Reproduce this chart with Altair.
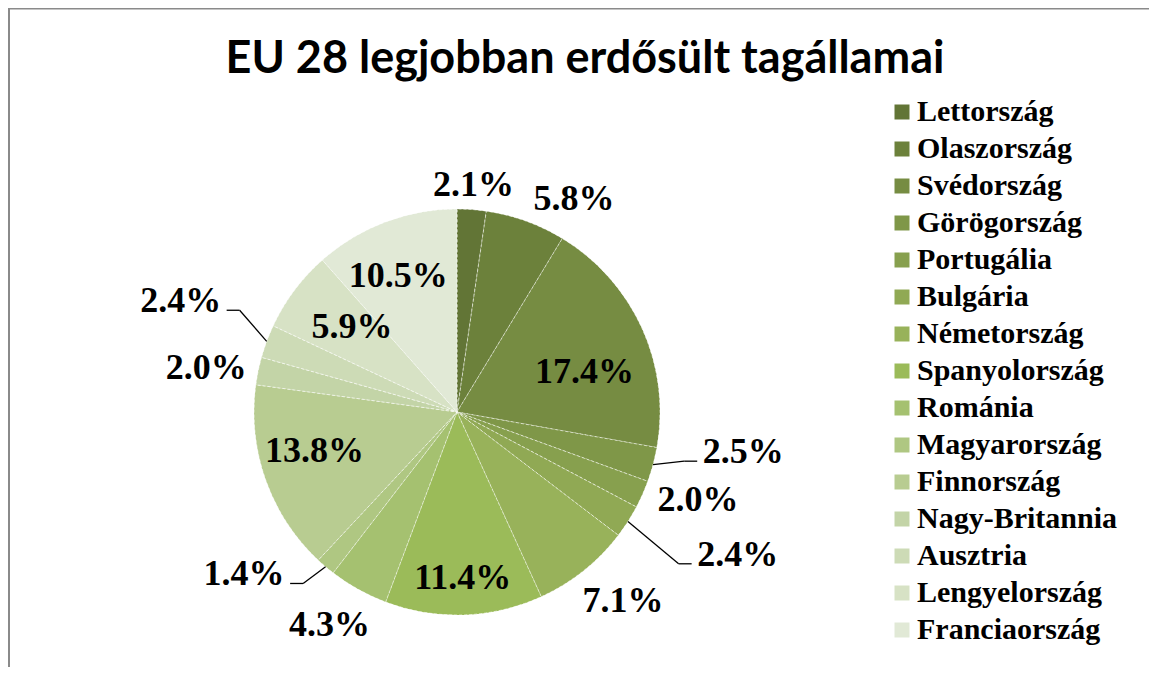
import altair as alt
import pandas as pd

# ---- data ----
countries = ["Lettország", "Olaszország", "Svédország", "Görögország", "Portugália",
             "Bulgária", "Németország", "Spanyolország", "Románia", "Magyarország",
             "Finnország", "Nagy-Britannia", "Ausztria", "Lengyelország", "Franciaország"]
shares = [2.1, 5.8, 17.4, 2.5, 2.0, 2.4, 7.1, 11.4, 4.3, 1.4, 13.8, 2.0, 2.4, 5.9, 10.5]
colors = ["#627536", "#6C813B", "#768C42", "#7F9748", "#87A04E", "#90A954", "#98B25A",
          "#9BBB59", "#A5C170", "#AFC782", "#B8CC91", "#C3D4A7", "#CDDBB6", "#D7E2C5", "#E1E9D6"]
title_text = "EU 28 legjobban erdősült tagállamai"

# ---- layout / style ----
CX, CY, R = 449, 404, 203          # pie centre and radius in view pixels
# label placement: radius from centre and a small nudge (dx, dy)
label_layout = {
    "Lettország": (228, 0, 0), "Olaszország": (245, 34, 18), "Svédország": (140, 0, 18),
    "Görögország": (286, 10, -34), "Portugália": (256, 7, -16), "Bulgária": (300, 28, -19),
    "Németország": (252, 9, -8), "Spanyolország": (166, 0, 0), "Románia": (248, -7, -4),
    "Magyarország": (267, -40, -41), "Finnország": (147, -4, -10), "Nagy-Britannia": (256, 0, 8),
    "Ausztria": (298, 3, -7), "Lengyelország": (136, 4, -4), "Franciaország": (149, -6, 3),
}
leader_countries = ["Görögország", "Bulgária", "Magyarország", "Ausztria"]
HW = 46  # half label width + gap for leader line end

df = pd.DataFrame({"country": countries, "share": shares, "idx": list(range(len(countries)))})
df["label"] = [f"{v:.1f}%" for v in shares]
df["lr"] = [label_layout[c][0] for c in countries]
df["ndx"] = [label_layout[c][1] for c in countries]
df["ndy"] = [label_layout[c][2] for c in countries]
df["leader"] = [c in leader_countries for c in countries]

arcs = alt.Chart(df).mark_arc(
    outerRadius=R, stroke="#ffffff", strokeWidth=0.8, strokeDash=[3, 2], strokeOpacity=0.7
).encode(
    theta=alt.Theta("share:Q", stack=True),
    order=alt.Order("idx:Q"),
    color=alt.Color("country:N", sort=countries,
                    scale=alt.Scale(domain=countries, range=colors),
                    legend=alt.Legend(title=None)),
    x=alt.value(CX), y=alt.value(CY),
)

geo = alt.Chart(df).transform_window(
    cum="sum(share)", sort=[alt.SortField("idx", order="ascending")], frame=[None, 0]
).transform_joinaggregate(
    total="sum(share)"
).transform_calculate(
    mid="(datum.cum - datum.share / 2) / datum.total * 2 * PI"
).transform_calculate(
    lx=f"{CX} + datum.lr * sin(datum.mid) + datum.ndx",
    ly=f"{CY} - datum.lr * cos(datum.mid) + datum.ndy",
    ex=f"{CX} + {R} * sin(datum.mid)",
    ey=f"{CY} - {R} * cos(datum.mid)",
    side="sin(datum.mid) >= 0 ? 1 : -1",
).transform_calculate(
    px=f"datum.lx - datum.side * {HW}",
    py="datum.ly + 9",
).transform_calculate(
    qx="datum.px - datum.side * 13",
)

labels = geo.mark_text(
    font="Liberation Serif", fontSize=36, fontWeight="bold", color="#000000",
    align="center", baseline="middle"
).encode(
    x=alt.X("lx:Q", scale=None), y=alt.Y("ly:Q", scale=None), text="label:N"
)

lead_diag = geo.transform_filter("datum.leader").mark_rule(
    color="#000000", strokeWidth=1.3
).encode(
    x=alt.X("ex:Q", scale=None), y=alt.Y("ey:Q", scale=None), x2="qx:Q", y2="py:Q"
)
lead_horiz = geo.transform_filter("datum.leader").mark_rule(
    color="#000000", strokeWidth=1.3
).encode(
    x=alt.X("qx:Q", scale=None), y=alt.Y("py:Q", scale=None), x2="px:Q", y2="py:Q"
)

title = alt.Chart(alt.Data(values=[{"t": title_text}])).mark_text(
    font="Lato", fontSize=45, fontWeight="bold", color="#000000",
    align="center", baseline="alphabetic"
).encode(text="t:N", x=alt.value(577), y=alt.value(65))

one = alt.Data(values=[{"k": 1}])
border_top = alt.Chart(one).mark_rule(color="#8a8a8a", strokeWidth=2).encode(
    x=alt.value(0), x2=alt.value(1141), y=alt.value(0.5))
border_left = alt.Chart(one).mark_rule(color="#8a8a8a", strokeWidth=2).encode(
    x=alt.value(1), y=alt.value(0), y2=alt.value(659))

chart = alt.layer(
    border_top, border_left, arcs, lead_diag, lead_horiz, labels, title
).properties(
    width=1141, height=659,
    autosize=alt.AutoSizeParams(type="none"),
    padding=0,
    background="#ffffff",
).configure_view(
    stroke=None
).configure_legend(
    orient="none", legendX=879, legendY=89, padding=0,
    symbolType="square", symbolSize=225, symbolStrokeWidth=0,
    labelFont="Liberation Serif", labelFontSize=30, labelFontWeight="bold",
    labelColor="#000000", labelOffset=0, rowPadding=7, labelLimit=0,
)

chart.save("out.html", embed_options={"renderer": "svg", "actions": False})
